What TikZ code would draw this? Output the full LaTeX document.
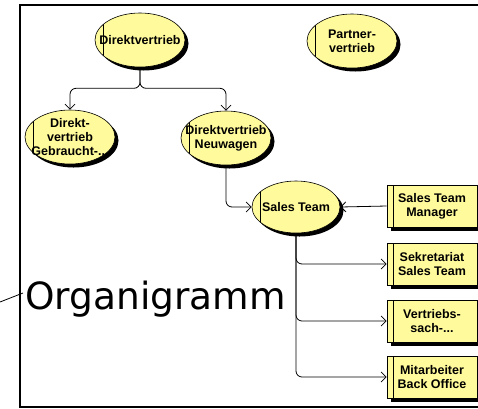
\documentclass[tikz,border=0pt]{standalone}
\usepackage{fontspec}
\setmainfont{Liberation Sans}
\newfontfamily\djv{DejaVu Sans}
\usetikzlibrary{shapes.geometric,shadows,arrows.meta,backgrounds}
\definecolor{nodeyellow}{RGB}{255,250,155}
\begin{document}
\begin{tikzpicture}[x=1pt,y=-1pt,
  ell/.style={ellipse,draw=black,line width=0.6pt,fill=nodeyellow,
    minimum width=90pt,minimum height=54pt,inner sep=0pt,
    general shadow={fill=black,shadow xshift=3.5pt,shadow yshift=-3.5pt},
    path picture={\draw[line width=0.6pt] ([xshift=8pt]path picture bounding box.north west) -- ([xshift=8pt]path picture bounding box.south west);}},
  box/.style={rectangle,draw=black,line width=0.6pt,fill=nodeyellow,
    minimum width=90pt,minimum height=42pt,inner sep=0pt,
    general shadow={fill=black,shadow xshift=3.5pt,shadow yshift=-3.5pt},
    path picture={\draw[line width=0.6pt] ([xshift=6pt]path picture bounding box.north west) -- ([xshift=6pt]path picture bounding box.south west);}},
  lbl/.style={font=\bfseries\fontsize{12.5}{14}\selectfont,align=center,inner sep=0pt},
  conn/.style={draw=black,line width=0.8pt,rounded corners=6pt,-{Straight Barb[length=5pt,width=10pt]}}]
\useasboundingbox (0,0) rectangle (478,408);
\clip (0,0) rectangle (478,408);

\node[ell,label={[lbl]center:{Direktvertrieb}}] (dv) at (140,40) {};
\node[ell,label={[lbl]center:{Partner-\\vertrieb}}] (pv) at (352,41) {};
\node[ell,label={[lbl]center:{Direkt-\\vertrieb\\Gebraucht-...}}] (dg) at (70,137) {};
\node[ell,label={[lbl]center:{Direktvertrieb\\Neuwagen}}] (dn) at (226,138) {};
\node[ell,minimum width=88pt,minimum height=52pt,label={[lbl]center:{Sales Team}}] (st) at (296,207) {};

\node[box,label={[lbl]center:{Sales Team\\Manager}}] (m) at (432,206) {};
\node[box,label={[lbl]center:{Sekretariat\\Sales Team}}] (s) at (432,264) {};
\node[box,label={[lbl]center:{Vertriebs-\\sach-...}}] (v) at (432,321) {};
\node[box,label={[lbl]center:{Mitarbeiter\\Back Office}}] (b) at (432,377) {};

\node[font=\djv\fontsize{37.5}{40}\selectfont,anchor=base west,inner sep=0pt] (org) at (25,309) {Organigramm};
\coordinate (c0) at (0,302);
\coordinate (c1) at (23,293);

\begin{scope}[on background layer]
\draw[line width=2pt] (20,5) rectangle (520,407);
\draw[line width=0.8pt] (c0) -- (c1);
\draw[conn] (dv.south) -- ++(0,21) -| (dg.north);
\draw[conn] (dv.south) -- ++(0,21) -| (dn.north);
\draw[conn] (dn.south) |- (st.west);
\draw[conn] (m.west) -- (st.east);
\draw[conn] (st.south) |- (s.west);
\draw[conn] (st.south) |- (v.west);
\draw[conn] (st.south) |- (b.west);
\end{scope}
\end{tikzpicture}
\end{document}
